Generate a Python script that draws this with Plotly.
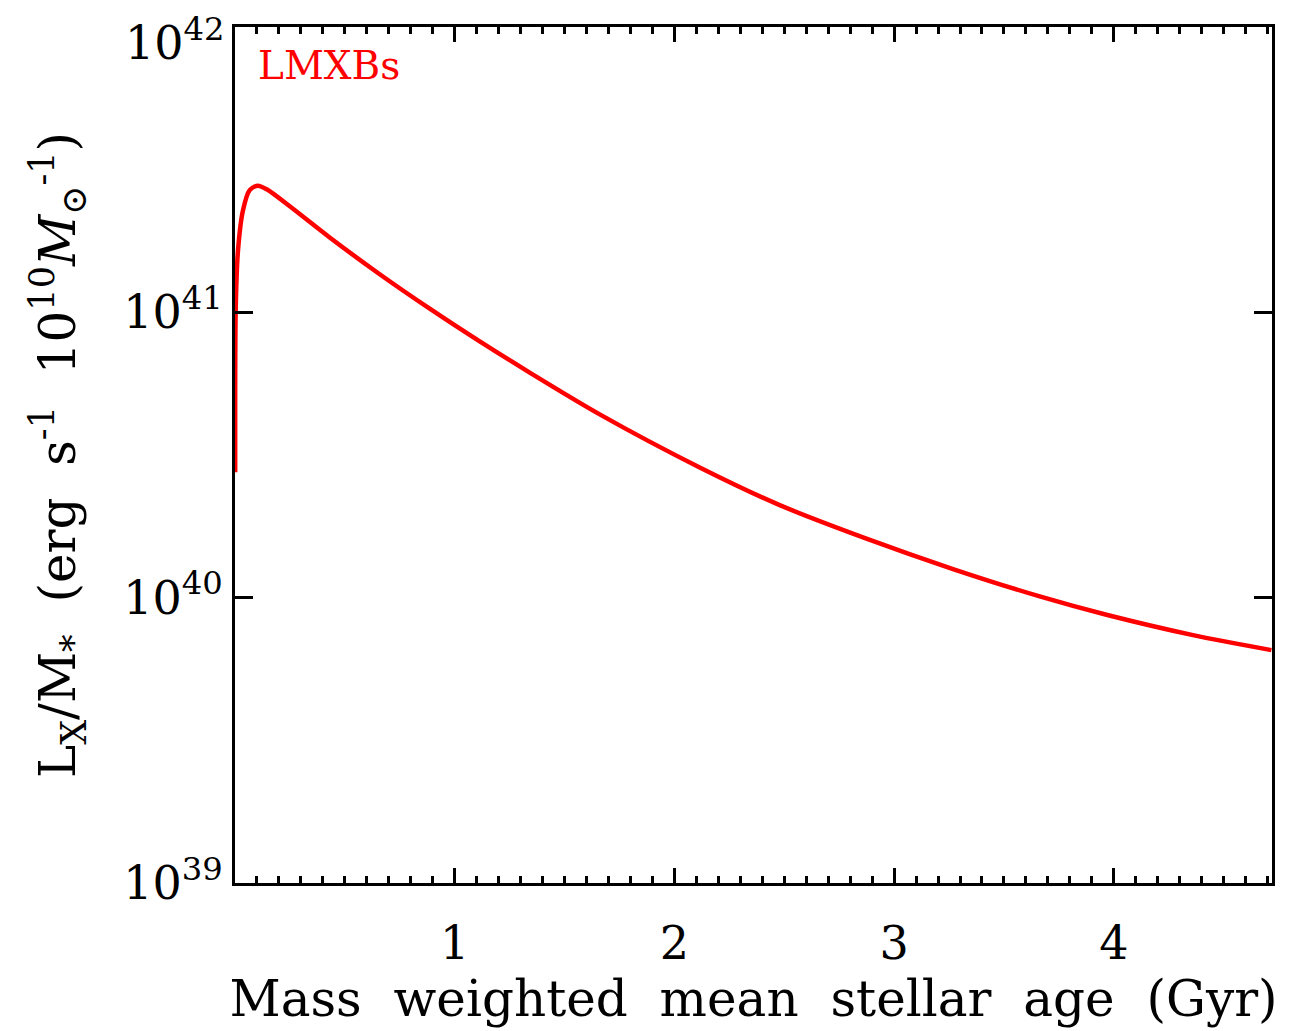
import plotly.graph_objects as go

# Data (age in Gyr, Lx/M* in erg s^-1 per 1e10 Msun)
age_gyr = [0.001, 0.0032, 0.0137, 0.0364, 0.0669, 0.1033, 0.1443, 0.2536, 0.431, 0.6586,
           0.8862, 1.1138, 1.3414, 1.660, 2.1152, 2.4793, 2.8739, 3.2681, 3.6628, 3.9663,
           4.3605, 4.7173]
lx_per_mass = [2.75e40, 1.02e41, 1.65e41, 2.28e41, 2.68e41, 2.78e41, 2.70e41, 2.34e41,
               1.83e41, 1.36e41, 1.03e41, 7.91e40, 6.15e40, 4.39e40, 2.86e40, 2.11e40,
               1.61e40, 1.26e40, 1.01e40, 8.71e39, 7.39e39, 6.55e39]

x_tickvals = [1, 2, 3, 4]
x_ticktext = ["1", "2", "3", "4"]
y_tickvals = [1e39, 1e40, 1e41, 1e42]
y_ticktext = ["10<sup>39</sup>", "10<sup>40</sup>", "10<sup>41</sup>", ""]
y_top_label = "10<sup>42</sup>"

series_label = "LMXBs"
x_title = "Mass  weighted  mean  stellar  age  (Gyr)"
y_title = ("L<sub>X</sub>/M<sub>*</sub>  (erg  s<sup>-1</sup>  10<sup>10</sup>"
           "<i>M</i><sub>⊙</sub><sup>-1</sup>)")

FONT = "DejaVu Serif"

fig = go.Figure()
fig.add_trace(go.Scatter(
    x=age_gyr, y=lx_per_mass, mode="lines",
    line=dict(color="#ff0000", width=4.5, shape="spline", smoothing=0.8),
    showlegend=False, hoverinfo="skip",
))

fig.add_annotation(
    x=0.02, y=0.955, xref="paper", yref="paper", xanchor="left", yanchor="middle",
    text=series_label, showarrow=False,
    font=dict(family=FONT, size=39, color="#ff0000"),
)

# top y tick label drawn slightly below the frame corner so it stays inside the page
fig.add_annotation(
    x=0, y=1, xref="paper", yref="paper", xanchor="right", yanchor="top",
    xshift=-8, yshift=19, text=y_top_label, showarrow=False,
    font=dict(family=FONT, size=46, color="black"),
)

axis_common = dict(
    showline=True, linecolor="black", linewidth=3, mirror="allticks",
    ticks="inside", tickcolor="black", tickwidth=3, showgrid=False, zeroline=False,
    tickfont=dict(family=FONT, size=46, color="black"),
    ticklabeloverflow="allow", automargin=False,
)

fig.update_xaxes(
    range=[0, 4.72], tickvals=x_tickvals, ticktext=x_ticktext, ticklen=15,
    minor=dict(ticks="inside", dtick=0.1, ticklen=7, tickwidth=2.5, tickcolor="black", showgrid=False),
    title=dict(text=x_title, font=dict(family=FONT, size=50, color="black"), standoff=4),
    ticklabelstandoff=18,
    **axis_common,
)
fig.update_yaxes(
    type="log", range=[38.9999, 42.0001], tickvals=y_tickvals, ticktext=y_ticktext, ticklen=18,
    title=dict(text=y_title, font=dict(family=FONT, size=50, color="black"), standoff=32),
    **axis_common,
)

fig.update_layout(
    width=1299, height=1031, autosize=False,
    margin=dict(l=235, r=27, t=27, b=148),
    paper_bgcolor="white", plot_bgcolor="white",
)

fig.write_html("out.html")
